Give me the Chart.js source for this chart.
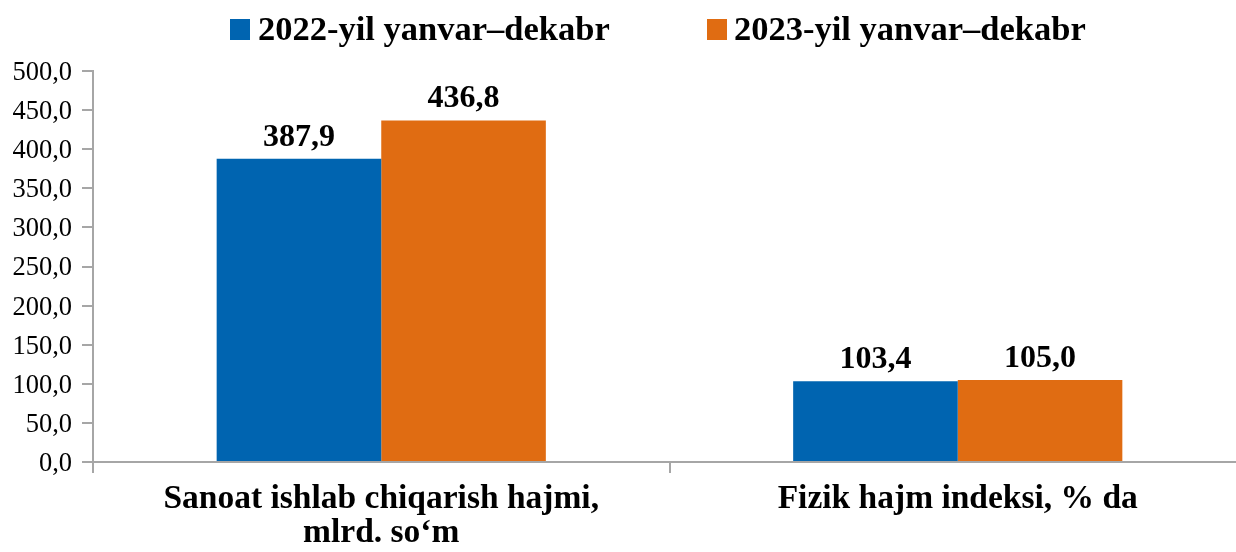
<!DOCTYPE html>
<html>
<head>
<meta charset="utf-8">
<script src="https://cdn.jsdelivr.net/npm/chart.js@4.4.1/dist/chart.umd.min.js"></script>
<style>
  html, body { margin: 0; padding: 0; background: #ffffff; overflow: hidden; width: 1236px; height: 552px; }
  #wrap { position: relative; width: 1236px; height: 552px; overflow: hidden; }
  #c { position: absolute; left: 0; top: 0; }
  .lg-box { position: absolute; width: 20px; height: 21px; top: 19px; }
  .lg-text { position: absolute; top: 8px; font-family: "Liberation Serif", "Times New Roman", serif; font-weight: bold; font-size: 34.5px; line-height: 40px; color: #000; white-space: nowrap; }
</style>
</head>
<body>
<div id="wrap">
  <canvas id="c" width="1260" height="552" style="width:1260px;height:552px;"></canvas>
  <div class="lg-box" id="b1" style="left:230px;"></div>
  <div class="lg-text" id="t1" style="left:258px;"></div>
  <div class="lg-box" id="b2" style="left:707px;"></div>
  <div class="lg-text" id="t2" style="left:734px;"></div>
</div>
<script>
const categories = [["Sanoat ishlab chiqarish hajmi,", "mlrd. so‘m"], "Fizik hajm indeksi, % da"];
const seriesNames = ["2022-yil yanvar–dekabr", "2023-yil yanvar–dekabr"];
const values2022 = [387.9, 103.4];
const values2023 = [436.8, 105.0];
const seriesColors = ["#0064B0", "#E06C12"];
const yMin = 0, yMax = 500, yStep = 50;

const fmt = v => v.toFixed(1).replace('.', ',');

document.getElementById('b1').style.background = seriesColors[0];
document.getElementById('b2').style.background = seriesColors[1];
document.getElementById('t1').textContent = seriesNames[0];
document.getElementById('t2').textContent = seriesNames[1];

const valueLabels = {
  id: 'valueLabels',
  afterDatasetsDraw(chart) {
    const ctx = chart.ctx;
    ctx.save();
    ctx.font = 'bold 32px "Liberation Serif", "Times New Roman", serif';
    ctx.fillStyle = '#000';
    ctx.textAlign = 'center';
    ctx.textBaseline = 'alphabetic';
    chart.data.datasets.forEach((ds, i) => {
      chart.getDatasetMeta(i).data.forEach((bar, j) => {
        ctx.fillText(fmt(ds.data[j]), bar.x, bar.y - 13);
      });
    });
    ctx.restore();
  }
};

new Chart(document.getElementById('c'), {
  type: 'bar',
  data: {
    labels: categories,
    datasets: [
      { label: seriesNames[0], data: values2022, backgroundColor: seriesColors[0], borderWidth: 0 },
      { label: seriesNames[1], data: values2023, backgroundColor: seriesColors[1], borderWidth: 0 }
    ]
  },
  options: {
    responsive: false,
    animation: false,
    devicePixelRatio: 1,
    layout: { padding: { top: 71, right: 14, left: 0, bottom: 0 } },
    plugins: { legend: { display: false }, tooltip: { enabled: false } },
    datasets: { bar: { categoryPercentage: 0.571, barPercentage: 1.0 } },
    scales: {
      x: {
        offset: true,
        grid: { offset: true, drawOnChartArea: false, drawTicks: true, tickLength: 11, color: '#a6a6a6', lineWidth: 2 },
        border: { color: '#a6a6a6', width: 2 },
        ticks: {
          color: '#000',
          padding: 10,
          maxRotation: 0,
          autoSkip: false,
          font: { family: '"Liberation Serif", "Times New Roman", serif', size: 33.5, weight: 'bold', lineHeight: 1.0 }
        },
        afterFit(scale) { scale.height = 90; }
      },
      y: {
        min: yMin, max: yMax,
        grid: { drawOnChartArea: false, drawTicks: true, tickLength: 11, color: '#a6a6a6', lineWidth: 2 },
        border: { color: '#a6a6a6', width: 2 },
        ticks: {
          stepSize: yStep,
          color: '#000',
          padding: 10,
          labelOffset: 2,
          font: { family: '"Liberation Serif", "Times New Roman", serif', size: 26.5 },
          callback: v => fmt(v)
        },
        afterFit(scale) { scale.width = 93; }
      }
    }
  },
  plugins: [valueLabels]
});
</script>
</body>
</html>
